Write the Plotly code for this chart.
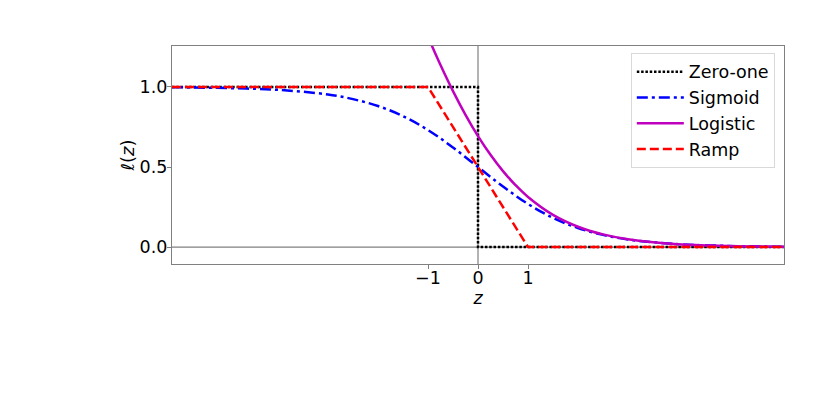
import plotly.graph_objects as go

# ---- data ----
zero_one_z = [-6.12, 0.0, 0.0, 6.12]
zero_one_l = [1.0, 1.0, 0.0, 0.0]

sigmoid_z = [-6.12, -6, -5, -4, -3, -2.5, -2, -1.5, -1, -0.5, 0, 0.5, 1, 1.5, 2, 2.5, 3, 4, 5, 6, 6.12]
sigmoid_l = [0.998, 0.998, 0.993, 0.982, 0.953, 0.924, 0.881, 0.818, 0.731, 0.622, 0.5, 0.378,
             0.269, 0.182, 0.119, 0.076, 0.047, 0.018, 0.007, 0.002, 0.002]

logistic_z = [-1.0, -0.75, -0.5, -0.25, 0, 0.25, 0.5, 0.75, 1, 1.5, 2, 2.5, 3, 4, 5, 6, 6.12]
logistic_l = [1.313, 1.137, 0.974, 0.826, 0.693, 0.576, 0.474, 0.387, 0.313, 0.201, 0.127,
              0.079, 0.049, 0.018, 0.007, 0.0025, 0.002]

ramp_z = [-6.12, -1.0, 1.0, 6.12]
ramp_l = [1.0, 1.0, 0.0, 0.0]

x_ticks = [-1, 0, 1]
x_tick_text = ["\u22121", "0", "1"]
y_ticks = [0.0, 0.5, 1.0]
y_tick_text = ["0.0", "0.5", "1.0"]

FONT = "DejaVu Sans"

fig = go.Figure()

fig.add_trace(go.Scatter(x=zero_one_z, y=zero_one_l, mode="lines", name="Zero-one",
                         line=dict(color="black", width=2.5, dash="2.5px,1.8px")))
fig.add_trace(go.Scatter(x=sigmoid_z, y=sigmoid_l, mode="lines", name="Sigmoid",
                         line=dict(color="#0000ff", width=2.5, dash="11px,4px,3px,4px",
                                   shape="spline", smoothing=1.0)))
fig.add_trace(go.Scatter(x=logistic_z, y=logistic_l, mode="lines", name="Logistic",
                         line=dict(color="#bf00bf", width=2.5, shape="spline", smoothing=1.0)))
fig.add_trace(go.Scatter(x=ramp_z, y=ramp_l, mode="lines", name="Ramp",
                         line=dict(color="#ff0000", width=2.5, dash="9px,4px")))

# axis lines at zero
fig.add_shape(type="line", xref="x", yref="y", x0=-6.12, x1=6.12, y0=0, y1=0,
              line=dict(color="#808080", width=1.2), layer="below")
fig.add_shape(type="line", xref="x", yref="y", x0=0, x1=0, y0=-0.106, y1=1.256,
              line=dict(color="#808080", width=1.2), layer="below")

fig.update_layout(
    width=831, height=405,
    margin=dict(l=164, r=55, t=38, b=149),
    paper_bgcolor="white", plot_bgcolor="white",
    font=dict(family=FONT, size=16, color="black"),
    showlegend=True,
    legend=dict(x=0.985, y=0.969, xanchor="right", yanchor="top",
                bgcolor="rgba(255,255,255,0.8)", bordercolor="#d9d9d9", borderwidth=1,
                font=dict(family=FONT, size=17.5), itemwidth=47, tracegroupgap=0),
    xaxis=dict(range=[-6.12, 6.12], tickvals=x_ticks, ticktext=x_tick_text,
               showgrid=False, zeroline=False, showline=True, mirror=True,
               linecolor="#808080", linewidth=1.2, ticks="outside", ticklen=4,
               tickcolor="#808080", tickfont=dict(family=FONT, size=17.5),
               ticklabelstandoff=-6,
               title=dict(text="<i>z</i>", font=dict(family=FONT, size=17.5), standoff=0)),
    yaxis=dict(range=[-0.106, 1.256], tickvals=y_ticks, ticktext=y_tick_text,
               showgrid=False, zeroline=False, showline=True, mirror=True,
               linecolor="#808080", linewidth=1.2, ticks="outside", ticklen=4,
               tickcolor="#808080", tickfont=dict(family=FONT, size=17.5),
               ticklabelstandoff=-4,
               title=dict(text="\u2113(<i>z</i>)", font=dict(family=FONT, size=18), standoff=0)),
)

fig.write_html("out.html")
